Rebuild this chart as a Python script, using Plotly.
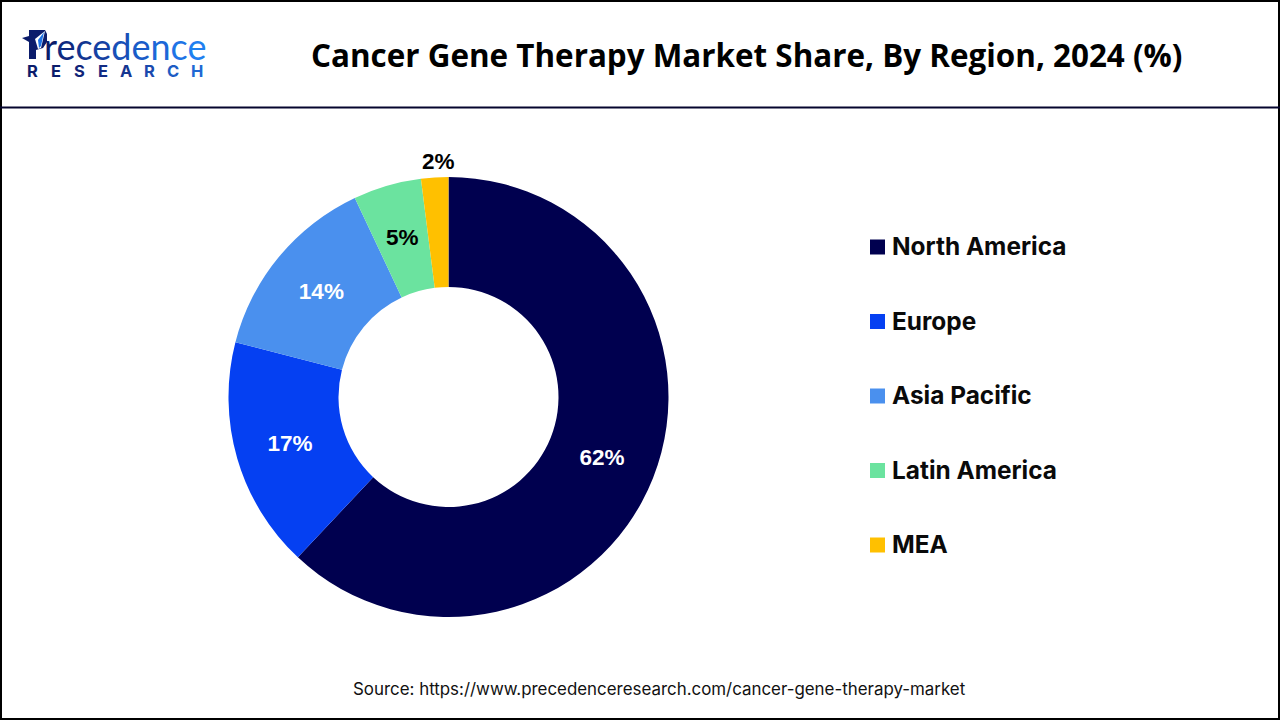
#!/usr/bin/env python
import plotly.graph_objects as go

W, H = 1280, 720

regions = ["North America", "Europe", "Asia Pacific", "Latin America", "MEA"]
shares = [62, 17, 14, 5, 2]
colors = ["#00004F", "#0540F2", "#4A90EE", "#6BE39F", "#FFC000"]
label_colors = ["white", "white", "white", "black", "black"]

title = "Cancer Gene Therapy Market Share, By Region, 2024 (%)"
source = "Source: https://www.precedenceresearch.com/cancer-gene-therapy-market"

logo_top = "recedence"
logo_top_colors = ["#0B1C6B", "#0F2A80", "#123691", "#1542A3", "#1850B8", "#1A5CC8", "#1C68D8", "#1E74E6", "#1F80F0"]
logo_bottom = "RESEARCH"
logo_bottom_colors = ["#0B1C6B", "#0B1C6B", "#0F2478", "#122C84", "#153691", "#1A4AAE", "#1D5CC4", "#2068D4"]


def px(x):
    return x / W


def py(y):
    return 1 - y / H


def poly(points):
    return "M " + " L ".join(f"{px(x)} {py(y)}" for x, y in points) + " Z"


def logo_shape(points, color):
    return dict(type="path", xref="paper", yref="paper", fillcolor=color, line=dict(width=0), path=poly(points))


# the two small slices get their labels from annotations, pie placement is off for them
fig = go.Figure(go.Pie(
    labels=regions,
    values=shares,
    hole=0.5,
    sort=False,
    direction="clockwise",
    rotation=0,
    marker=dict(colors=colors, line=dict(width=0)),
    texttemplate="%{value}%",
    textposition=["inside", "inside", "inside", "none", "none"],
    insidetextorientation="horizontal",
    textfont=dict(family="Liberation Sans", size=22.5, color=label_colors, weight="bold"),
    domain=dict(x=[px(228.5), px(668.5)], y=[py(617), py(177)]),
    showlegend=False,
))

shapes = [
    # outer frame and header rule
    dict(type="rect", xref="paper", yref="paper", x0=px(1), x1=px(1279), y0=py(1), y1=py(719),
         line=dict(color="black", width=2)),
    dict(type="line", xref="paper", yref="paper", x0=0, x1=1, y0=py(107.5), y1=py(107.5),
         line=dict(color="#05052E", width=2)),
    # logo P with the plane cut into it
    logo_shape([(29, 30), (45, 30), (47, 34), (47, 42), (43, 48), (36, 50), (36, 59), (29, 59),
                (29, 42), (22, 38), (29, 36)], "#0B1C6B"),
    logo_shape([(45, 31), (35, 39), (38, 49), (41, 48)], "white"),
    logo_shape([(44, 32), (38, 40), (39, 48), (41, 46)], "#1E74E6"),
]

annotations = [
    dict(text=f"<b>{title}</b>", x=px(747), y=py(55), xanchor="center", yanchor="middle", showarrow=False,
         font=dict(family="Open Sans", size=31.4, color="black")),
    dict(text=source, x=px(659), y=py(689), xanchor="center", yanchor="middle", showarrow=False,
         font=dict(family="Inter", size=16.9, color="#111111")),
    dict(text="".join(f'<span style="color:{c}">{ch}</span>' for ch, c in zip(logo_top, logo_top_colors)),
         x=px(42), y=py(46), xanchor="left", yanchor="middle", showarrow=False,
         font=dict(family="Lato", size=36, color="#0B1C6B")),
    dict(text=f"<b>{shares[3]}%</b>", x=px(402), y=py(238), xanchor="center", yanchor="middle", showarrow=False,
         font=dict(family="Liberation Sans", size=22.5, color=label_colors[3])),
    dict(text=f"<b>{shares[4]}%</b>", x=px(438), y=py(162), xanchor="center", yanchor="middle", showarrow=False,
         font=dict(family="Liberation Sans", size=22.5, color=label_colors[4])),
]

for i, (ch, c) in enumerate(zip(logo_bottom, logo_bottom_colors)):
    annotations.append(dict(text=f"<b>{ch}</b>", x=px(32 + i * 23.5), y=py(71), xanchor="center", yanchor="middle",
                            showarrow=False, font=dict(family="Inter", size=16.5, color=c)))

for i, (name, c) in enumerate(zip(regions, colors)):
    yc = 247 + i * 74.5
    shapes.append(dict(type="rect", xref="paper", yref="paper", x0=px(870), x1=px(885),
                       y0=py(yc + 7.5), y1=py(yc - 7.5), fillcolor=c, line=dict(width=0)))
    annotations.append(dict(text=f"<b>{name}</b>", x=px(889.5), y=py(yc - 1), xanchor="left", yanchor="middle",
                            showarrow=False, font=dict(family="Inter", size=24.4, color="#0A0A0A")))

fig.update_layout(
    width=W, height=H,
    margin=dict(l=0, r=0, t=0, b=0),
    paper_bgcolor="white",
    shapes=shapes,
    annotations=annotations,
)

# default body margin pushes the 1280x720 figure off the page
fig.write_html("out.html", config=dict(displayModeBar=False), post_script="document.body.style.margin = '0';")
